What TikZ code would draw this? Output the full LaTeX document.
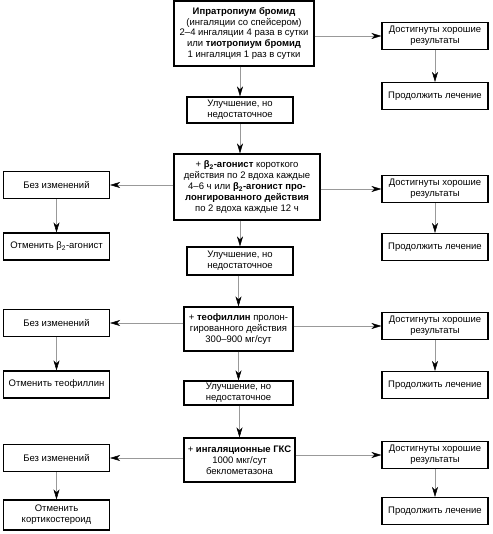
\documentclass[tikz,border=0pt]{standalone}
\usepackage{fontspec}
\setmainfont{Liberation Sans}
\usetikzlibrary{arrows.meta}

\begin{document}
\begin{tikzpicture}[
  x=1pt, y=-1pt,
  font=\fontsize{9.5}{10.8}\selectfont,
  stepbox/.style={draw, line width=1.1pt, align=center, inner sep=1.5pt, minimum width=106pt, minimum height=27pt},
  flow/.style={draw=black!40, line width=0.5pt, -{Stealth[length=10pt, width=6pt, inset=3pt, color=black]}}
]
\useasboundingbox (0,0) rectangle (492,534);

% main column
\node[stepbox, minimum width=140pt, minimum height=65pt] (ipr) at (244,33.5)
  {\textbf{Ипратропиум бромид}\\(ингаляции со спейсером)\\2–4 ингаляции 4 раза в сутки\\или \textbf{тиотропиум бромид}\\1 ингаляция 1 раз в сутки};
\node[stepbox, minimum height=26pt] (imp1) at (240,110) {Улучшение, но\\недостаточное};
\node[stepbox, minimum width=146pt, minimum height=66pt] (beta) at (247,187)
  {+ \textbf{β\textsubscript{2}-агонист} короткого\\действия по 2 вдоха каждые\\4–6 ч или \textbf{β\textsubscript{2}-агонист про-}\\\textbf{лонгированного действия}\\по 2 вдоха каждые 12 ч};
\node[stepbox, minimum height=28pt] (imp2) at (240,261) {Улучшение, но\\недостаточное};
\node[stepbox, minimum width=109pt, minimum height=44pt] (teo) at (238.5,329)
  {+ \textbf{теофиллин} пролон-\\гированного действия\\300–900 мг/сут};
\node[stepbox, minimum width=109pt, minimum height=24pt] (imp3) at (238.5,393) {Улучшение, но\\недостаточное};
\node[stepbox, minimum width=111pt, minimum height=44pt] (gks) at (239.5,460)
  {+ \textbf{ингаляционные ГКС}\\1000 мкг/сут\\беклометазона};

% left column
\node[stepbox] (nc1) at (56.5,185) {Без изменений};
\node[stepbox] (stop1) at (56.5,246.5) {Отменить β\textsubscript{2}-агонист};
\node[stepbox] (nc2) at (56.5,323) {Без изменений};
\node[stepbox] (stop2) at (56.5,384.5) {Отменить теофиллин};
\node[stepbox] (nc3) at (56.5,458) {Без изменений};
\node[stepbox, minimum height=30pt] (stop3) at (56.5,515) {Отменить\\кортикостероид};

% right column
\node[stepbox] (good1) at (435,36) {Достигнуты хорошие\\результаты};
\node[stepbox] (cont1) at (435,96) {Продолжить лечение};
\node[stepbox] (good2) at (435,189) {Достигнуты хорошие\\результаты};
\node[stepbox] (cont2) at (435,247) {Продолжить лечение};
\node[stepbox] (good3) at (435,326) {Достигнуты хорошие\\результаты};
\node[stepbox] (cont3) at (435,385) {Продолжить лечение};
\node[stepbox] (good4) at (435,455) {Достигнуты хорошие\\результаты};
\node[stepbox] (cont4) at (435,511) {Продолжить лечение};

% down the middle
\draw[flow] (ipr.south -| imp1.north) -- (imp1.north);
\draw[flow] (imp1.south) -- (imp1.south |- beta.north);
\draw[flow] (beta.south -| imp2.north) -- (imp2.north);
\draw[flow] (imp2.south -| teo.north) -- (teo.north);
\draw[flow] (teo.south) -- (imp3.north);
\draw[flow] (imp3.south -| gks.north) -- (gks.north);

% sideways
\draw[flow] (ipr.east |- good1) -- (good1.west);
\draw[flow] (beta.west |- nc1) -- (nc1.east);
\draw[flow] (beta.east |- good2) -- (good2.west);
\draw[flow] (teo.west |- nc2) -- (nc2.east);
\draw[flow] (teo.east |- good3) -- (good3.west);
\draw[flow] (gks.west |- nc3) -- (nc3.east);
\draw[flow] (gks.east |- good4) -- (good4.west);

% down the sides
\draw[flow] (nc1) -- (stop1);
\draw[flow] (nc2) -- (stop2);
\draw[flow] (nc3) -- (stop3);
\draw[flow] (good1) -- (cont1);
\draw[flow] (good2) -- (cont2);
\draw[flow] (good3) -- (cont3);
\draw[flow] (good4) -- (cont4);

\end{tikzpicture}
\end{document}
